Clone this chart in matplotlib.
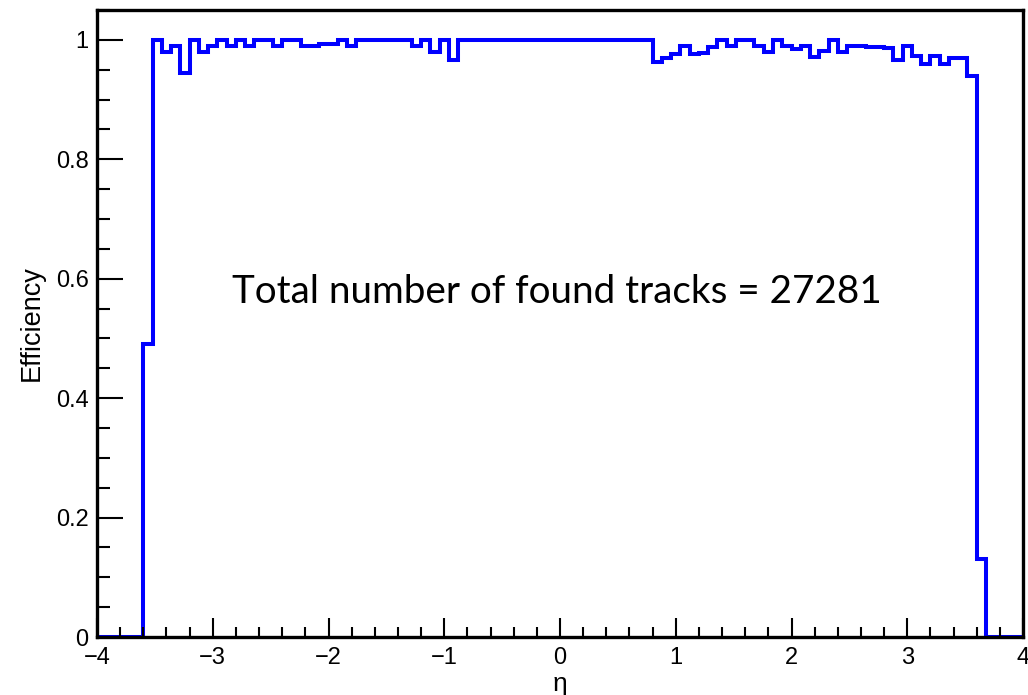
import numpy as np
import matplotlib.pyplot as plt
from matplotlib.ticker import MultipleLocator, FormatStrFormatter

# Histogram binning: 100 bins from -4 to 4
n_bins = 100
eta_min, eta_max = -4.0, 4.0

# Efficiency per bin
efficiency = [
    0, 0, 0, 0, 0, 0.49, 1.0, 0.98, 0.99, 0.944,
    1.0, 0.98, 0.99, 1.0, 0.99, 1.0, 0.99, 1.0, 1.0, 0.99,
    1.0, 1.0, 0.99, 0.99, 0.993, 0.993, 1.0, 0.99, 1.0, 1.0,
    1.0, 1.0, 1.0, 1.0, 0.99, 1.0, 0.98, 1.0, 0.967, 1.0,
    1.0, 1.0, 1.0, 1.0, 1.0, 1.0, 1.0, 1.0, 1.0, 1.0,
    1.0, 1.0, 1.0, 1.0, 1.0, 1.0, 1.0, 1.0, 1.0, 1.0,
    0.963, 0.97, 0.976, 0.99, 0.977, 0.978, 0.988, 1.0, 0.99, 1.0,
    1.0, 0.99, 0.98, 1.0, 0.99, 0.985, 0.99, 0.972, 0.982, 1.0,
    0.98, 0.99, 0.99, 0.988, 0.988, 0.987, 0.967, 0.99, 0.973, 0.96,
    0.973, 0.96, 0.97, 0.969, 0.94, 0.13, 0, 0, 0, 0,
]

annotation = "Total number of found tracks = 27281"

edges = np.linspace(eta_min, eta_max, n_bins + 1)

plt.rcParams['font.family'] = ['Liberation Sans', 'DejaVu Sans']

fig = plt.figure(figsize=(10.28, 6.95), dpi=100)
ax = fig.add_axes([97 / 1028, 1 - 637 / 695, (1023 - 97) / 1028, (637 - 10) / 695])

ax.stairs(efficiency, edges, color='#0000ff', linewidth=2.9, baseline=0)

ax.set_xlim(eta_min, eta_max)
ax.set_ylim(0, 1.05)

ax.xaxis.set_major_locator(MultipleLocator(1))
ax.xaxis.set_minor_locator(MultipleLocator(0.2))
ax.yaxis.set_major_locator(MultipleLocator(0.2))
ax.yaxis.set_minor_locator(MultipleLocator(0.05))
ax.yaxis.set_major_formatter(FormatStrFormatter('%g'))

ax.tick_params(axis='x', which='major', direction='in', length=14, width=1.5,
               labelsize=17, pad=7)
ax.tick_params(axis='x', which='minor', direction='in', length=7, width=1.5)
ax.tick_params(axis='y', which='major', direction='in', length=19, width=1.5,
               labelsize=17, pad=6)
ax.tick_params(axis='y', which='minor', direction='in', length=9.5, width=1.5)

for s in ax.spines.values():
    s.set_linewidth(2.4)
    s.set_color('black')

ax.set_xlabel("η", fontsize=19)
ax.xaxis.label.set_va('center')
ax.xaxis.set_label_coords(0.5, -0.075)
ax.set_ylabel("Efficiency", fontsize=19.5)
ax.yaxis.label.set_va('center')
ax.yaxis.set_label_coords(-0.070, 0.5)

fig.text(557 / 1028, 1 - 292 / 695, annotation, fontsize=27.8, family=['Lato', 'DejaVu Sans'],
         ha='center', va='center', color='black')

fig.savefig("out.png", dpi=100)
